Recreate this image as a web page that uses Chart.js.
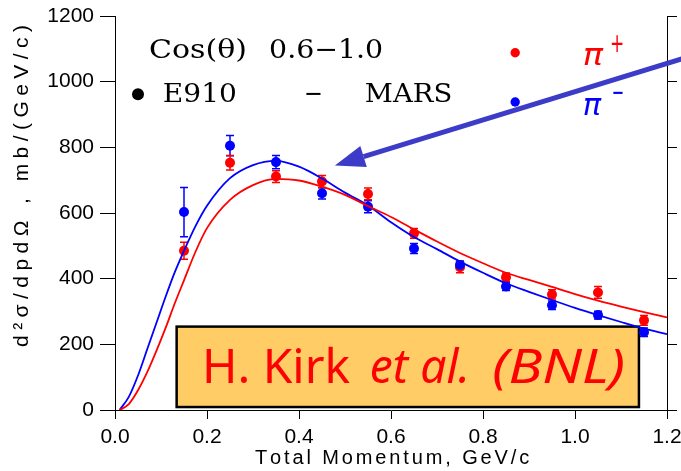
<!DOCTYPE html>
<html>
<head>
<meta charset="utf-8">
<script src="https://cdn.jsdelivr.net/npm/chart.js@4.4.1/dist/chart.umd.min.js"></script>
<style>
  html, body { margin: 0; padding: 0; background: #fff; }
  #wrap { width: 681px; height: 471px; }
</style>
</head>
<body>
<div id="wrap"><canvas id="c" width="681" height="471"></canvas></div>
<script>
// E910 measured cross sections, cos(theta) 0.6-1.0
const momentum    = [0.15, 0.25, 0.35, 0.45, 0.55, 0.65, 0.75, 0.85, 0.95, 1.05, 1.15];
const piPlus      = [485, 753, 711, 696, 658, 538, 435, 404, 352, 358, 273];
const piPlusErr   = [26, 22, 18, 18, 18, 15, 17, 13, 14, 18, 15];
const piMinus     = [603, 805, 755, 660, 619, 492, 442, 376, 319, 289, 237];
const piMinusErr  = [75, 31, 20, 17, 18, 15, 12, 12, 13, 12, 13];

// MARS model curves
const marsGrid  = [0.01, 0.03, 0.05, 0.07, 0.09, 0.11, 0.13, 0.15, 0.175, 0.2, 0.25, 0.3, 0.35, 0.4, 0.45,
                   0.5, 0.55, 0.6, 0.65, 0.7, 0.75, 0.8, 0.85, 0.9, 0.95, 1.0, 1.05, 1.1, 1.15, 1.2];
const marsPlus  = [0, 18, 60, 115, 180, 250, 325, 395, 482, 554, 640, 685, 704, 699, 680,
                   655, 621, 588, 550, 513, 478, 447, 418, 396, 375, 353, 333, 315, 298, 282];
const marsMinus = [0, 40, 105, 185, 265, 345, 420, 485, 560, 622, 706, 746, 759, 741, 705,
                   662, 623, 572, 527, 490, 452, 418, 386, 360, 335, 311, 289, 268, 248, 231];

// axis ticks
const xTicks = [0.0, 0.2, 0.4, 0.6, 0.8, 1.0, 1.2];
const yTicks = [0, 200, 400, 600, 800, 1000, 1200];

const RED = '#ff0000';
const BLUE = '#0000ff';
const ARROW = '#3c3cc8';

const pts = (xs, ys) => xs.map((x, i) => ({ x: x, y: ys[i] }));

// draw text squeezed/stretched so it spans exactly from x0 to x1
function fitText(ctx, text, x0, x1, baseline, font, color) {
  ctx.save();
  ctx.font = font;
  ctx.fillStyle = color;
  ctx.textBaseline = 'alphabetic';
  ctx.textAlign = 'left';
  const w = ctx.measureText(text).width;
  ctx.translate(x0, baseline);
  ctx.scale((x1 - x0) / w, 1);
  ctx.fillText(text, 0, 0);
  ctx.restore();
}

// spread text with letter spacing to cover a given width, centred
function spacedText(ctx, text, cx, cy, width, font, rotate) {
  ctx.save();
  ctx.font = font;
  ctx.fillStyle = '#000';
  const w = ctx.measureText(text).width;
  const gap = (width - w) / (text.length - 1);
  ctx.translate(cx, cy);
  if (rotate) ctx.rotate(-Math.PI / 2);
  ctx.textBaseline = 'middle';
  let x = -width / 2;
  for (const ch of text) {
    ctx.fillText(ch, x, 0);
    x += ctx.measureText(ch).width + gap;
  }
  ctx.restore();
}

const overlay = {
  id: 'overlay',
  beforeDatasetsDraw(chart) {
    const ctx = chart.ctx, xs = chart.scales.x, ys = chart.scales.y;
    const X = v => xs.getPixelForValue(v), Y = v => ys.getPixelForValue(v);

    // credit box
    const bx0 = X(0.134), bx1 = X(1.139), by0 = Y(254), by1 = Y(9);
    ctx.save();
    ctx.fillStyle = '#ffcc66';
    ctx.fillRect(bx0, by0, bx1 - bx0, by1 - by0);
    ctx.lineWidth = 2.5;
    ctx.strokeStyle = '#000';
    ctx.strokeRect(bx0, by0, bx1 - bx0, by1 - by0);
    ctx.restore();
    const fam = '"Comic Sans MS", "Noto Sans", sans-serif';
    fitText(ctx, 'H. Kirk', X(0.189), X(0.511), Y(82), '48px ' + fam, RED);
    fitText(ctx, 'et al.', X(0.554), X(0.772), Y(82), 'italic 48px ' + fam, RED);
    fitText(ctx, '(BNL)', X(0.820), X(1.109), Y(82), 'italic 48px ' + fam, RED);

    // error bars
    const bars = [[piMinus, piMinusErr, BLUE], [piPlus, piPlusErr, RED]];
    ctx.save();
    ctx.lineWidth = 1.5;
    for (const [vals, errs, col] of bars) {
      ctx.strokeStyle = col;
      momentum.forEach((m, i) => {
        const x = X(m), yt = Y(vals[i] + errs[i]), yb = Y(vals[i] - errs[i]);
        ctx.beginPath();
        ctx.moveTo(x, yt); ctx.lineTo(x, yb);
        ctx.moveTo(x - 4, yt); ctx.lineTo(x + 4, yt);
        ctx.moveTo(x - 4, yb); ctx.lineTo(x + 4, yb);
        ctx.stroke();
      });
    }
    ctx.restore();
  },
  afterDraw(chart) {
    const ctx = chart.ctx, xs = chart.scales.x, ys = chart.scales.y;
    const X = v => xs.getPixelForValue(v), Y = v => ys.getPixelForValue(v);
    const serif = '26px "DejaVu Serif", serif';

    // legend block
    fitText(ctx, 'Cos(\u03b8)', X(0.0739), X(0.287), Y(1072), serif, '#000');
    fitText(ctx, '0.6\u22121.0', X(0.335), X(0.583), Y(1072), serif, '#000');
    ctx.save();
    ctx.fillStyle = '#000';
    ctx.beginPath(); ctx.arc(X(0.05), Y(962), 6, 0, Math.PI * 2); ctx.fill();
    ctx.restore();
    fitText(ctx, 'E910', X(0.104), X(0.265), Y(938), serif, '#000');
    fitText(ctx, '\u2212', X(0.411), X(0.452), Y(938), serif, '#000');
    fitText(ctx, 'MARS', X(0.543), X(0.733), Y(938), serif, '#000');

    const pi = 'italic 30px "DejaVu Sans", sans-serif';
    ctx.save();
    ctx.fillStyle = RED;
    ctx.beginPath(); ctx.arc(X(0.870), Y(1088), 4.7, 0, Math.PI * 2); ctx.fill();
    ctx.fillStyle = BLUE;
    ctx.beginPath(); ctx.arc(X(0.870), Y(938), 4.7, 0, Math.PI * 2); ctx.fill();
    ctx.restore();
    fitText(ctx, '\u03c0', X(1.017), X(1.061), Y(1051), pi, RED);
    fitText(ctx, '+', X(1.076), X(1.107), Y(1090), '26px "DejaVu Sans", sans-serif', RED);
    fitText(ctx, '\u03c0', X(1.017), X(1.057), Y(898), pi, BLUE);
    fitText(ctx, '\u2212', X(1.080), X(1.107), Y(940), '26px "DejaVu Sans", sans-serif', BLUE);

    // arrow pointing at the pi- peak
    const tx = X(0.478), ty = Y(745), sx = X(1.232), sy = Y(1069);
    const ang = Math.atan2(sy - ty, sx - tx);
    const hl = 30, hw = 11;
    const bxp = tx + hl * Math.cos(ang), byp = ty + hl * Math.sin(ang);
    ctx.save();
    ctx.strokeStyle = ARROW;
    ctx.fillStyle = ARROW;
    ctx.lineWidth = 5;
    ctx.beginPath(); ctx.moveTo(bxp, byp); ctx.lineTo(sx, sy); ctx.stroke();
    ctx.beginPath();
    ctx.moveTo(tx, ty);
    ctx.lineTo(bxp - hw * Math.sin(ang), byp + hw * Math.cos(ang));
    ctx.lineTo(bxp + hw * Math.sin(ang), byp - hw * Math.cos(ang));
    ctx.closePath(); ctx.fill();
    ctx.restore();

    // axis titles
    const ca = chart.chartArea;
    spacedText(ctx, 'Total Momentum, GeV/c', (ca.left + ca.right) / 2, 458, 272,
               '20px "Liberation Sans", sans-serif', false);
    spacedText(ctx, 'd\u00b2\u03c3/dpd\u03a9 , mb/(GeV/c)', 22, 186, 322,
               '21px "Liberation Sans", sans-serif', true);
  }
};

const tickFont = { family: '"Liberation Sans", sans-serif', size: 21 };

// fixed axis sizes, no extra label overhang padding
const fixSize = (prop, size) => s => {
  s[prop] = size;
  s.paddingLeft = 0; s.paddingRight = 0; s.paddingTop = 0; s.paddingBottom = 0;
};

new Chart(document.getElementById('c'), {
  type: 'scatter',
  data: {
    datasets: [
      { label: 'MARS \u03c0+', data: pts(marsGrid, marsPlus), showLine: true, borderColor: RED,
        borderWidth: 1.8, pointRadius: 0, cubicInterpolationMode: 'monotone', fill: false },
      { label: 'MARS \u03c0-', data: pts(marsGrid, marsMinus), showLine: true, borderColor: BLUE,
        borderWidth: 1.8, pointRadius: 0, cubicInterpolationMode: 'monotone', fill: false },
      { label: 'E910 \u03c0-', data: pts(momentum, piMinus), pointRadius: 5,
        backgroundColor: BLUE, borderColor: BLUE, borderWidth: 0 },
      { label: 'E910 \u03c0+', data: pts(momentum, piPlus), pointRadius: 5,
        backgroundColor: RED, borderColor: RED, borderWidth: 0 }
    ]
  },
  options: {
    responsive: false,
    animation: false,
    devicePixelRatio: 1,
    layout: { padding: { top: 16, left: 0, right: 0, bottom: 0 } },
    plugins: { legend: { display: false }, tooltip: { enabled: false } },
    scales: {
      x: {
        type: 'linear', min: 0, max: 1.2,
        afterBuildTicks(s) { s.ticks = xTicks.map(v => ({ value: v })); },
        ticks: { color: '#000', font: tickFont, padding: 6, maxRotation: 0, autoSkip: false,
                 callback: v => Number(v).toFixed(1) },
        grid: { drawOnChartArea: false, drawTicks: true, tickLength: 9, color: '#000' },
        border: { display: true, color: '#000', width: 1 },
        afterFit: fixSize('height', 61)
      },
      y: {
        type: 'linear', min: 0, max: 1200, position: 'left',
        afterBuildTicks(s) { s.ticks = yTicks.map(v => ({ value: v })); },
        ticks: { color: '#000', font: tickFont, padding: 6, callback: v => String(v) },
        grid: { drawOnChartArea: false, drawTicks: true, tickLength: 15, color: '#000' },
        border: { display: true, color: '#000', width: 1 },
        afterFit: fixSize('width', 115)
      },
      y2: {
        type: 'linear', min: 0, max: 1200, position: 'right',
        afterBuildTicks(s) { s.ticks = yTicks.map(v => ({ value: v })); },
        ticks: { display: false },
        grid: { drawOnChartArea: false, drawTicks: true, tickLength: 10, color: '#000' },
        border: { display: true, color: '#000', width: 1 },
        afterFit: fixSize('width', 14)
      }
    }
  },
  plugins: [overlay]
});
</script>
</body>
</html>
